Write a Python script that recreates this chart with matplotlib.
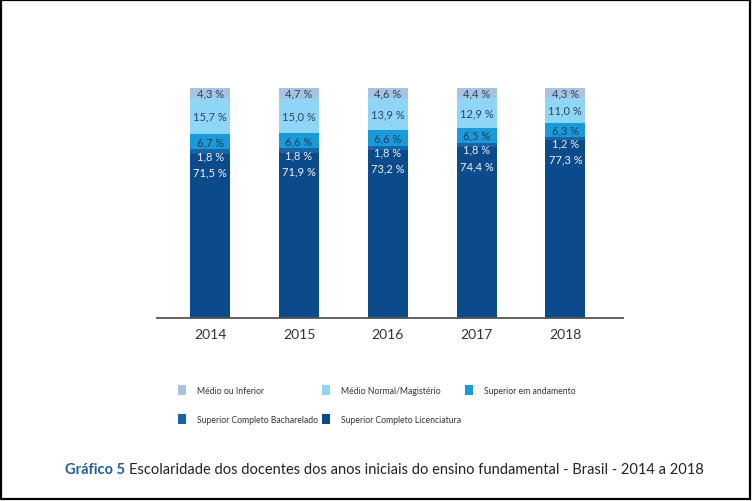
import matplotlib
matplotlib.use("Agg")
import matplotlib.pyplot as plt
from matplotlib.patches import Rectangle, Patch
import numpy as np

plt.rcParams['font.family'] = ['Lato', 'DejaVu Sans']

# dados (%)
anos = ['2014', '2015', '2016', '2017', '2018']
licenciatura = [71.5, 71.9, 73.2, 74.4, 77.3]
bacharelado = [1.8, 1.8, 1.8, 1.8, 1.2]
andamento = [6.7, 6.6, 6.6, 6.5, 6.3]
normal = [15.7, 15.0, 13.9, 12.9, 11.0]
inferior = [4.3, 4.7, 4.6, 4.4, 4.3]

series = [licenciatura, bacharelado, andamento, normal, inferior]
nomes = ['Superior Completo Licenciatura', 'Superior Completo Bacharelado',
         'Superior em andamento', 'Médio Normal/Magistério', 'Médio ou Inferior']
cores = ['#0b4a8b', '#1765a8', '#1a9ad9', '#8fd6f6', '#a8c3df']
cor_txt = ['#f2f5fa', '#e8eef6', '#1c3a60', '#2a4566', '#2a4566']
# deslocamento vertical dos rotulos (pt)
desloc = [None, -3, 0, 0, 0]

fig = plt.figure(figsize=(7.52, 5.02), dpi=100)
ax = fig.add_axes([0.2088, 0.3645, 0.6197, 0.4582])

x = np.arange(len(anos))
base = np.zeros(len(anos))
for i, s in enumerate(series):
    s = np.array(s)
    ax.bar(x, s, 0.45, bottom=base, color=cores[i], linewidth=0)
    for j in range(len(anos)):
        txt = ('%.1f %%' % s[j]).replace('.', ',')
        if desloc[i] is None:
            # rotulo logo abaixo do topo do segmento
            yv = base[j] + s[j]
            ax.annotate(txt, (x[j], yv), xytext=(0, -13.5), textcoords='offset points',
                        ha='center', va='center', fontsize=8, color=cor_txt[i])
        else:
            yv = base[j] + s[j] / 2
            ax.annotate(txt, (x[j], yv), xytext=(0, desloc[i]), textcoords='offset points',
                        ha='center', va='center', fontsize=8, color=cor_txt[i])
    base = base + s

ax.set_xlim(-0.6, 4.65)
ax.set_ylim(0, 100)
ax.set_xticks(x)
ax.set_xticklabels(anos, fontsize=10, color='#333333')
ax.tick_params(axis='x', length=0, pad=7)
ax.set_yticks([])
for lado in ['top', 'right', 'left']:
    ax.spines[lado].set_visible(False)
ax.spines['bottom'].set_color('#555555')
ax.spines['bottom'].set_linewidth(1.3)

# legenda em linhas
ordem = [4, 1, 3, 0, 2]
handles = [Patch(facecolor=cores[k], edgecolor='none') for k in ordem]
labels = [nomes[k] for k in ordem]
fig.legend(handles, labels, ncol=3, loc='upper left', bbox_to_anchor=(0.2314, 0.240),
           frameon=False, fontsize=6.2, handlelength=0.95, handleheight=1.45,
           handletextpad=1.25, columnspacing=0.45, labelspacing=2.15, borderpad=0,
           labelcolor='#333333')

# titulo embaixo
tam = 12
t1 = fig.text(65 / 752, 0.063, 'Gráfico 5', fontsize=tam, fontweight='bold',
              color='#1f5e9e', va='center', ha='left')
t2 = fig.text(0.5, 0.063, 'Escolaridade dos docentes dos anos iniciais do ensino fundamental - Brasil - 2014 a 2018',
              fontsize=tam, color='#222222', va='center', ha='left')
fig.canvas.draw()
larg = t1.get_window_extent().width + 4 + t2.get_window_extent().width
tam = tam * 633 / larg
t1.set_fontsize(tam)
t2.set_fontsize(tam)
fig.canvas.draw()
bb = t1.get_window_extent()
t2.set_x((bb.x1 + 4) / fig.bbox.width)

# moldura
fig.patches.append(Rectangle((1 / 752, 2 / 502), 749 / 752, 499 / 502, transform=fig.transFigure,
                             fill=False, edgecolor='black', linewidth=1.6))

fig.savefig('out.png', dpi=100)
